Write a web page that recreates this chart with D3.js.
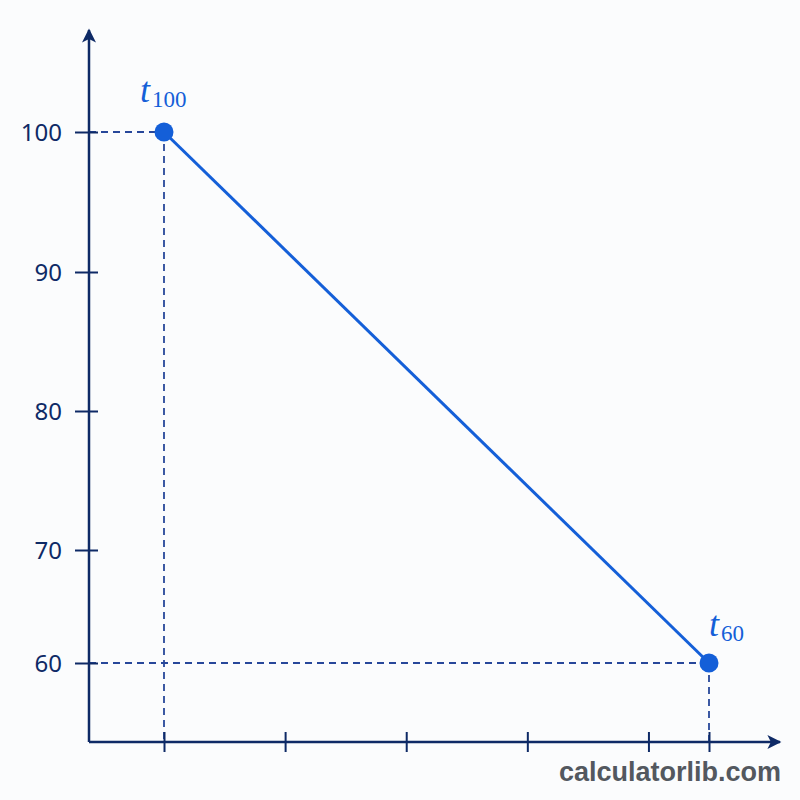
<!DOCTYPE html>
<html>
<head>
<meta charset="utf-8">
<script src="https://cdn.jsdelivr.net/npm/d3@7"></script>
<style>
  body { margin: 0; background: #fbfcfd; }
  svg { display: block; }
</style>
</head>
<body>
<svg id="chart" width="800" height="800"></svg>
<script>
// data
const yTicks = [60, 70, 80, 90, 100];
const xTicks = [1, 2, 3, 4, 5, 5.5];
const points = [
  { name: "t", sub: "100", x: 1, y: 100 },
  { name: "t", sub: "60", x: 5.5, y: 60 }
];

const svg = d3.select("#chart");
const navy = "#0e2a66",
      dash = "#27479a",
      blue = "#145fd8";

const originX = 89, originY = 742;

const x = d3.scaleLinear().domain([1, 5.5]).range([164, 709]);
// the axis spacing in the picture is not even, so piecewise
const y = d3.scaleLinear().domain(yTicks).range([663, 550, 411, 272, 132]);

svg.append("defs").append("marker")
    .attr("id", "arrow")
    .attr("viewBox", "0 0 10 10")
    .attr("refX", 9).attr("refY", 5)
    .attr("markerWidth", 15).attr("markerHeight", 14)
    .attr("markerUnits", "userSpaceOnUse")
    .attr("orient", "auto")
  .append("path")
    .attr("d", "M0,0 L10,5 L0,10 L2.5,5 Z")
    .attr("fill", navy);

// guide lines
const guides = svg.append("g")
    .attr("stroke", dash)
    .attr("stroke-width", 1.8)
    .attr("stroke-dasharray", "7,5");

guides.selectAll(".h")
  .data(points)
  .enter().append("line")
    .attr("x1", originX).attr("x2", d => x(d.x))
    .attr("y1", d => y(d.y)).attr("y2", d => y(d.y));

guides.selectAll(".v")
  .data(points)
  .enter().append("line")
    .attr("x1", d => x(d.x)).attr("x2", d => x(d.x))
    .attr("y1", d => y(d.y)).attr("y2", originY);

// axes
svg.append("line")
    .attr("x1", originX).attr("y1", originY)
    .attr("x2", originX).attr("y2", 30)
    .attr("stroke", navy).attr("stroke-width", 2.5)
    .attr("marker-end", "url(#arrow)");

svg.append("line")
    .attr("x1", originX).attr("y1", originY)
    .attr("x2", 780).attr("y2", originY)
    .attr("stroke", navy).attr("stroke-width", 2.5)
    .attr("marker-end", "url(#arrow)");

const yAxis = svg.append("g")
    .attr("transform", `translate(${originX},0)`)
    .call(d3.axisLeft(y).tickValues(yTicks).tickSize(14).tickPadding(14));
yAxis.select(".domain").remove();
yAxis.selectAll(".tick line")
    .attr("x2", 9).attr("x1", -14)
    .attr("stroke", navy).attr("stroke-width", 2);
yAxis.selectAll(".tick text")
    .attr("fill", navy)
    .attr("x", -27)
    .attr("dy", "0.36em")
    .style("font-family", "'Noto Sans', sans-serif")
    .style("font-size", "24px");

const xAxis = svg.append("g")
    .attr("transform", `translate(0,${originY})`)
    .call(d3.axisBottom(x).tickValues(xTicks).tickSize(10).tickFormat(""));
xAxis.select(".domain").remove();
xAxis.selectAll(".tick line")
    .attr("y1", -10)
    .attr("stroke", navy).attr("stroke-width", 2);

// the line between the two points
svg.append("path")
    .datum(points)
    .attr("fill", "none")
    .attr("stroke", blue)
    .attr("stroke-width", 3)
    .attr("d", d3.line().x(d => x(d.x)).y(d => y(d.y)));

svg.selectAll(".dot")
  .data(points)
  .enter().append("circle")
    .attr("cx", d => x(d.x))
    .attr("cy", d => y(d.y))
    .attr("r", 9.5)
    .attr("fill", blue);

// labels t_100, t_60
const label = svg.selectAll(".lab")
  .data(points)
  .enter().append("text")
    .attr("x", d => x(d.x) - (d.sub === "100" ? 24 : 0))
    .attr("y", d => y(d.y) - (d.sub === "100" ? 30 : 27))
    .attr("fill", blue)
    .style("font-family", "'Liberation Serif', serif");

label.append("tspan")
    .style("font-style", "italic")
    .style("font-size", "36px")
    .text(d => d.name);
label.append("tspan")
    .attr("dy", 5)
    .attr("dx", 2)
    .style("font-size", "23px")
    .text(d => d.sub);

// watermark
svg.append("text")
    .attr("x", 781).attr("y", 781)
    .attr("text-anchor", "end")
    .attr("fill", "#53585f")
    .style("font-family", "'Liberation Sans', Arial, sans-serif")
    .style("font-weight", "bold")
    .style("font-size", "27px")
    .text("calculatorlib.com");
</script>
</body>
</html>
